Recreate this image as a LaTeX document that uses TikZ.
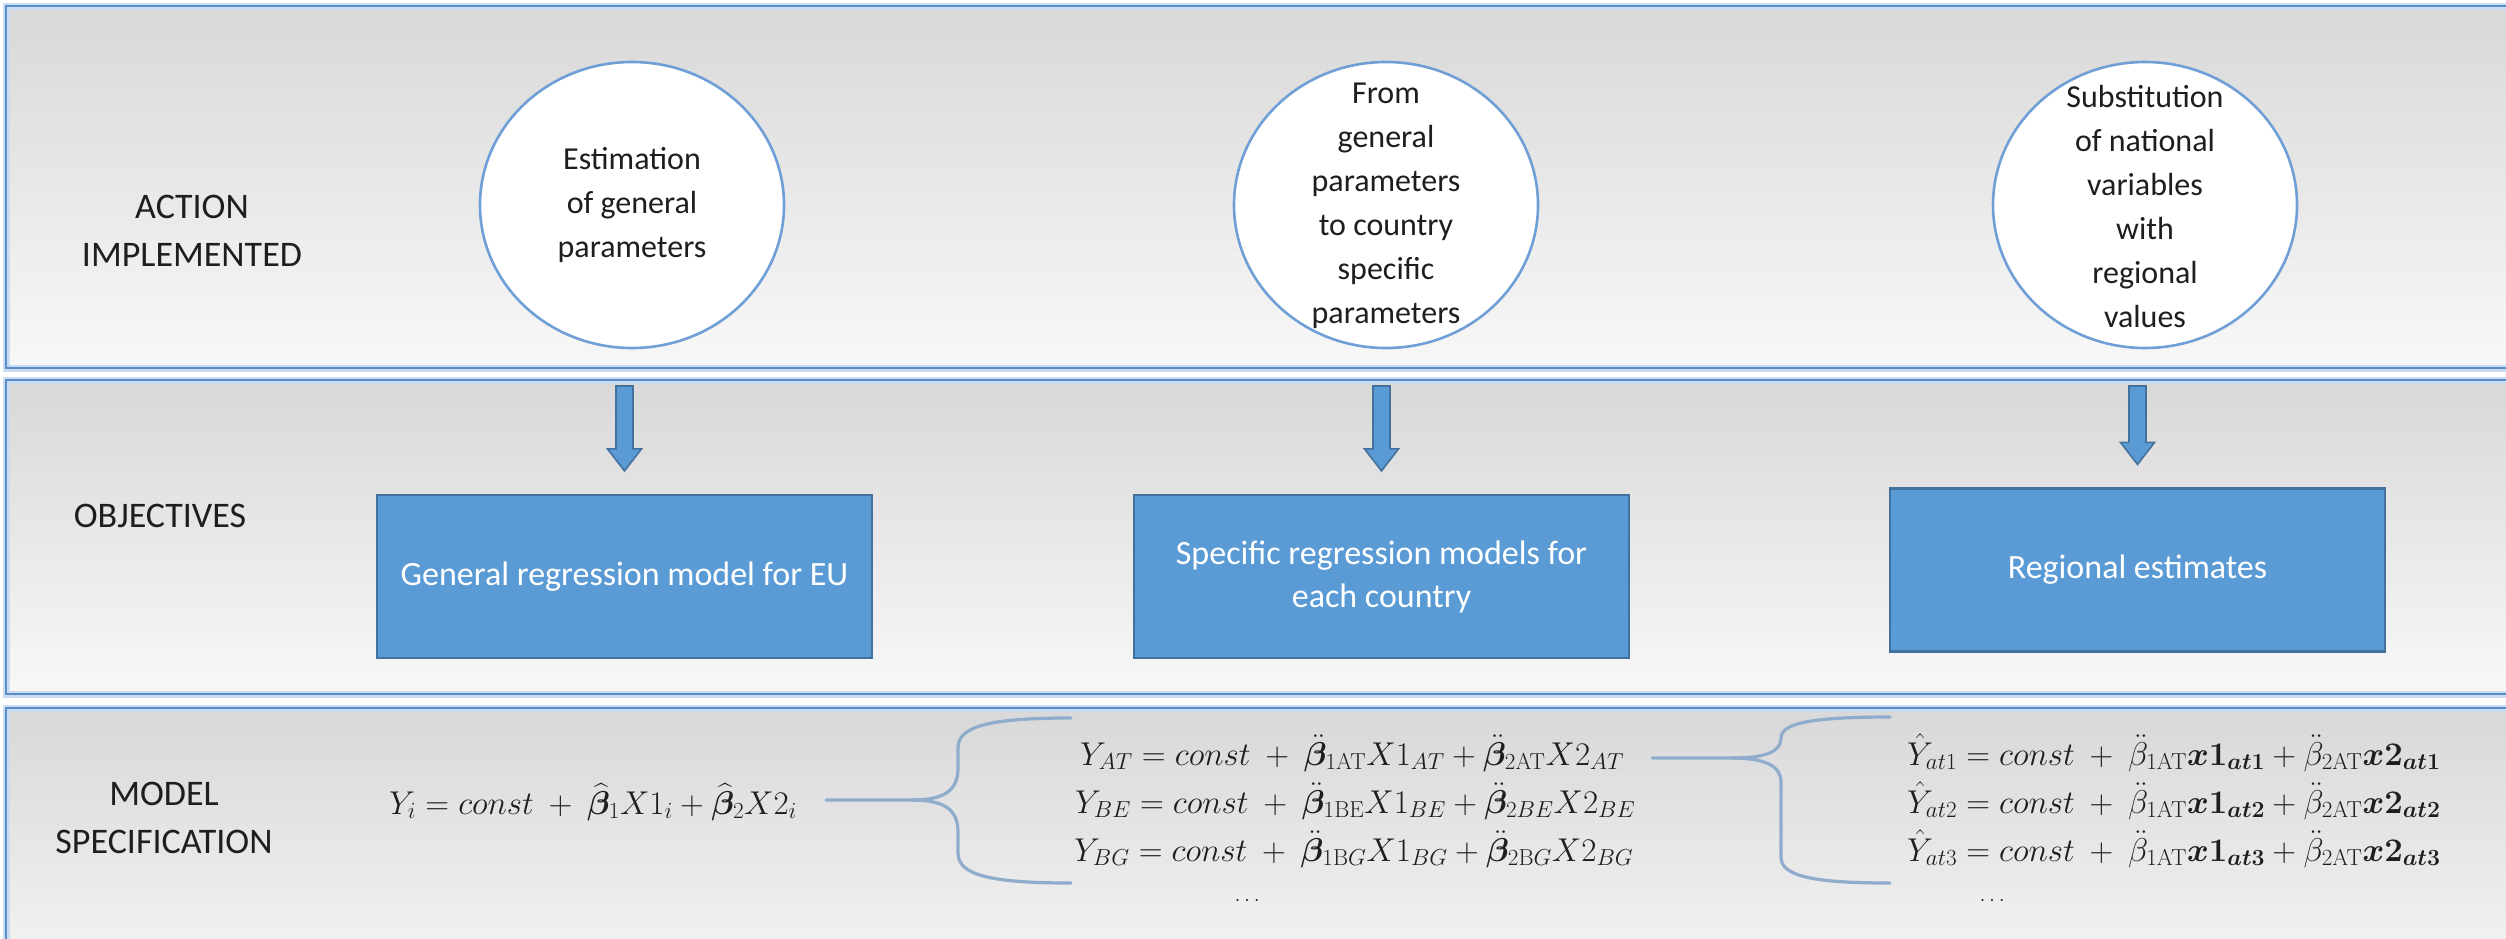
\RequirePackage{fix-cm}
\documentclass[tikz,border=0pt]{standalone}
\usepackage[no-math]{fontspec}
\setmainfont{Carlito}
\usepackage{amsmath,bm}
\usetikzlibrary{shapes.geometric,calc}

\definecolor{panelborder}{HTML}{5A8DCB}
\definecolor{panelglow}{HTML}{C9DCF1}
\definecolor{paneltop}{HTML}{D8D8D8}
\definecolor{panelbot}{HTML}{F8F8F8}
\definecolor{boxfill}{HTML}{5B9BD5}
\definecolor{boxedge}{HTML}{41719C}
\definecolor{circedge}{HTML}{6F9FD6}
\definecolor{bracecol}{HTML}{8FACCD}
\definecolor{txt}{HTML}{1E1E1E}

\tikzset{
  panel/.style={top color=paneltop, bottom color=panelbot},
  panelglowline/.style={draw=panelglow, line width=7},
  panelline/.style={draw=panelborder, line width=2.6},
  lbl/.style={font=\fontsize{36}{48}\selectfont, align=center, text=txt, inner sep=0},
  circ/.style={ellipse, draw=circedge, line width=2.6, fill=white, minimum width=304, minimum height=286, inner sep=0},
  ctext/.style={font=\fontsize{32}{44}\selectfont, align=center, text=txt, inner sep=0},
  objbox/.style={rectangle, fill=boxfill, draw=boxedge, line width=2.2, minimum width=495, minimum height=163, text=white, font=\fontsize{34}{43}\selectfont, align=center, inner sep=0},
  arrowshape/.style={draw=boxedge, fill=boxfill, line width=1.6, line join=miter},
  fml/.style={font=\fontsize{33}{46}\selectfont, text=txt, inner sep=0, anchor=base west, text height=24pt, text depth=8pt},
  dotsn/.style={font=\fontsize{22}{26}\selectfont, text=txt, inner sep=0},
  brc/.style={draw=bracecol, line width=3.2, line cap=round}
}

\newcommand\blkarrow[2]{%
  \path let \p1=(#1), \p2=($(#2)+(0,23pt)$) in
    [arrowshape]
    (\x1-8.5pt,\y1) -- (\x1-8.5pt,\y2+22pt) -- (\x1-17pt,\y2+22pt) -- (\x1,\y2)
    -- (\x1+17pt,\y2+22pt) -- (\x1+8.5pt,\y2+22pt) -- (\x1+8.5pt,\y1) -- cycle;%
}

\begin{document}
\begin{tikzpicture}[x=1pt,y=-1pt]
\useasboundingbox (0,0) rectangle (2506,938);
\clip (0,0) rectangle (2506,938);
\fill[white] (0,0) rectangle (2506,938);

% panels
\path[panel] (6,6) rectangle (2540,368);
\path[panel] (6,380) rectangle (2540,694);
\path[panel] (6,708) rectangle (2540,1010);
\foreach \a/\b in {6/368,380/694,708/1010}{
  \draw[panelglowline] (2540,\a) -- (6,\a) -- (6,\b) -- (2540,\b);
  \draw[panelline] (2540,\a) -- (6,\a) -- (6,\b) -- (2540,\b);
}

% row labels
\node[lbl] (lab1) at (192,231) {ACTION\\IMPLEMENTED};
\node[lbl] (lab2) at (160,516) {OBJECTIVES};
\node[lbl] (lab3) at (164,818) {MODEL\\SPECIFICATION};

% circles
\node[circ] (c1) at (632,205) {};
\node[ctext] (t1) at (c1) {Estimation\\of general\\parameters};
\node[circ] (c2) at (1386,205) {};
\node[ctext] (t2) at (1386,206) {From\\general\\parameters\\to country\\specific\\parameters};
\node[circ] (c3) at (2145,205) {};
\node[ctext] (t3) at (2145,206) {Substitution\\of national\\variables\\with\\regional\\values};

% objective boxes
\node[objbox] (b1) at (624.5,576.5) {General regression model for EU};
\node[objbox] (b2) at (1381.5,576.5) {Specific regression models for\\each country};
\node[objbox] (b3) at (2137.5,570) {Regional estimates};

% arrows
\coordinate (a1) at (624.5,386);
\coordinate (a2) at (1381.5,386);
\coordinate (a3) at (2137.5,386);
\blkarrow{a1}{b1.north}
\blkarrow{a2}{b2.north}
\blkarrow{a3}{b3.north}

% formulas
\node[fml] (f1) at (389,814) {$Y_i = const\ +\ \widehat{\bm{\beta}}_1 X1_i + \widehat{\bm{\beta}}_2 X2_i$};

\node[fml] (m1) at (1080,765) {$Y_{AT} = const\ +\ \ddot{\bm{\beta}}_{1\mathrm{AT}}X1_{AT} + \ddot{\bm{\beta}}_{2\mathrm{AT}}X2_{AT}$};
\node[fml] (m2) at (1075,813) {$Y_{BE} = const\ +\ \ddot{\bm{\beta}}_{1\mathrm{BE}}X1_{BE} + \ddot{\bm{\beta}}_{2BE}X2_{BE}$};
\node[fml] (m3) at (1074,861) {$Y_{BG} = const\ +\ \ddot{\bm{\beta}}_{1\mathrm{B}G}X1_{BG} + \ddot{\bm{\beta}}_{2\mathrm{B}G}X2_{BG}$};
\node[dotsn] (md) at (1249,900) {$\dots$};

\node[fml] (r1) at (1907,765) {$\hat{Y}_{at1} = const\ +\ \ddot{\beta}_{1\mathrm{AT}}\bm{x1}_{\bm{at1}} + \ddot{\beta}_{2\mathrm{AT}}\bm{x2}_{\bm{at1}}$};
\node[fml] (r2) at (1907,813) {$\hat{Y}_{at2} = const\ +\ \ddot{\beta}_{1\mathrm{AT}}\bm{x1}_{\bm{at2}} + \ddot{\beta}_{2\mathrm{AT}}\bm{x2}_{\bm{at2}}$};
\node[fml] (r3) at (1907,861) {$\hat{Y}_{at3} = const\ +\ \ddot{\beta}_{1\mathrm{AT}}\bm{x1}_{\bm{at3}} + \ddot{\beta}_{2\mathrm{AT}}\bm{x2}_{\bm{at3}}$};
\node[dotsn] (rd) at (1994,900) {$\dots$};

% braces
\coordinate (bt1) at (912,800);
\draw[brc] ($(bt1 -| f1.east)+(29pt,0)$) -- (bt1)
  .. controls (945,800) and (958,790) .. (958,768) -- (958,748)
  .. controls (958,726) and (990,718) .. (1071,718);
\draw[brc] (bt1) .. controls (945,800) and (958,810) .. (958,832) -- (958,853)
  .. controls (958,875) and (990,883) .. (1071,883);

\coordinate (bt2) at (1732,758);
\draw[brc] ($(bt2 -| m1.east)+(28pt,0)$) -- (bt2)
  .. controls (1765,758) and (1781,752) .. (1781,738)
  .. controls (1781,723) and (1812,717) .. (1890,717);
\draw[brc] (bt2) .. controls (1765,758) and (1781,766) .. (1781,782) -- (1781,857)
  .. controls (1781,876) and (1812,883) .. (1890,883);
\end{tikzpicture}
\end{document}
